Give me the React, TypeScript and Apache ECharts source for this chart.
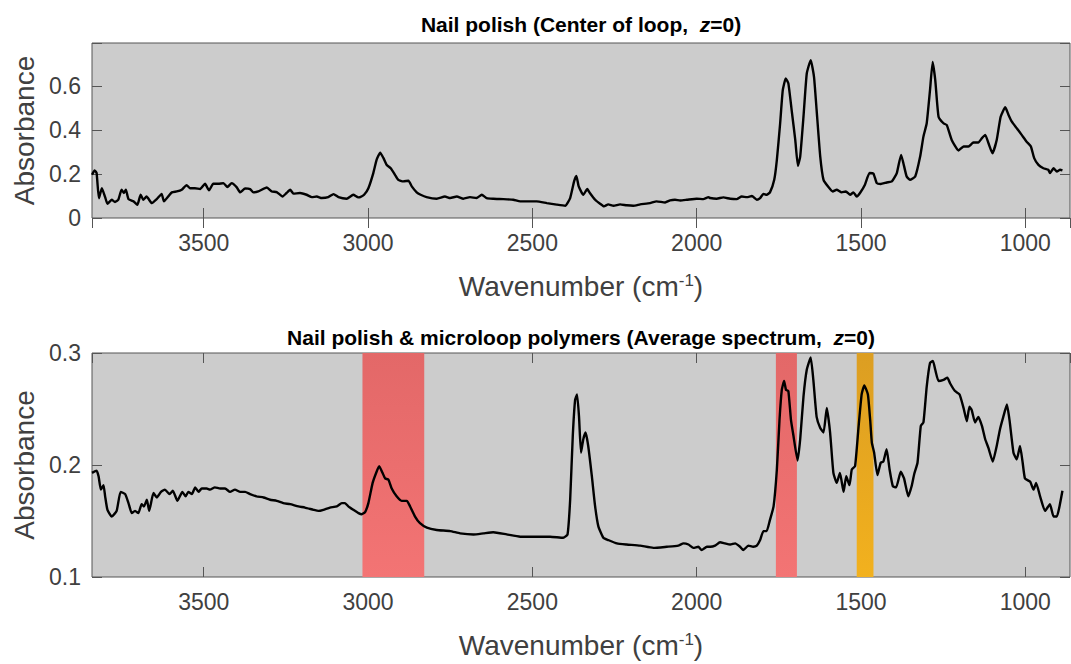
import React, { useEffect, useRef } from "react";
import * as echarts from "echarts";

// ---------- data ----------
const xMin = 864;
const xMax = 3840;

const topWn = [3840,3832,3826,3819,3810,3800,3793,3780,3770,3760,3750,3743,3737,3729,3714,3702,3692,3684,3674,3658,3643,3628,3621,3608,3597,3582,3567,3552,3542,3527,3511,3496,3484,3471,3456,3440,3428,3415,3400,3389,3374,3359,3349,3334,3308,3293,3278,3260,3248,3237,3227,3207,3187,3171,3156,3141,3121,3105,3090,3065,3045,3030,3024,3012,2999,2984,2974,2963,2953,2943,2931,2918,2908,2893,2877,2867,2852,2840,2822,2791,2766,2750,2730,2710,2690,2670,2654,2639,2619,2588,2558,2537,2507,2487,2456,2426,2400,2385,2373,2366,2359,2345,2333,2325,2309,2294,2282,2269,2253,2233,2213,2193,2172,2142,2122,2096,2081,2066,2050,2030,2000,1980,1964,1959,1939,1919,1898,1878,1863,1847,1832,1817,1807,1797,1787,1777,1764,1756,1746,1738,1729,1721,1711,1700,1692,1685,1675,1665,1653,1643,1635,1624,1614,1599,1586,1574,1559,1546,1533,1523,1513,1503,1488,1474,1462,1452,1440,1422,1406,1391,1378,1371,1361,1351,1335,1320,1310,1300,1290,1282,1274,1264,1249,1239,1224,1203,1188,1173,1158,1143,1132,1122,1112,1100,1087,1075,1061,1051,1041,1026,1011,996,983,973,960,945,930,925,914,904,894,887];
const topAbs = [0.197,0.217,0.205,0.09,0.136,0.095,0.065,0.083,0.073,0.083,0.129,0.114,0.129,0.086,0.076,0.06,0.106,0.083,0.098,0.068,0.086,0.11,0.076,0.098,0.117,0.121,0.129,0.15,0.136,0.136,0.132,0.156,0.126,0.156,0.156,0.159,0.141,0.159,0.141,0.117,0.135,0.132,0.117,0.121,0.139,0.121,0.118,0.098,0.114,0.129,0.111,0.114,0.106,0.095,0.098,0.091,0.095,0.109,0.095,0.088,0.106,0.094,0.095,0.106,0.136,0.205,0.265,0.298,0.273,0.242,0.227,0.197,0.174,0.167,0.17,0.144,0.117,0.106,0.095,0.088,0.098,0.091,0.098,0.088,0.095,0.091,0.106,0.091,0.088,0.086,0.083,0.076,0.076,0.076,0.068,0.061,0.056,0.091,0.167,0.192,0.144,0.106,0.132,0.114,0.083,0.065,0.053,0.062,0.056,0.062,0.058,0.056,0.062,0.068,0.076,0.071,0.08,0.083,0.08,0.083,0.088,0.086,0.095,0.091,0.088,0.094,0.088,0.086,0.098,0.095,0.1,0.083,0.091,0.11,0.106,0.117,0.174,0.265,0.432,0.583,0.636,0.614,0.492,0.356,0.238,0.28,0.462,0.659,0.72,0.644,0.492,0.28,0.174,0.141,0.121,0.129,0.117,0.121,0.106,0.117,0.098,0.114,0.152,0.205,0.202,0.159,0.155,0.162,0.167,0.205,0.288,0.25,0.189,0.174,0.189,0.28,0.371,0.432,0.583,0.712,0.629,0.462,0.432,0.424,0.356,0.308,0.326,0.326,0.344,0.344,0.364,0.379,0.341,0.295,0.356,0.462,0.505,0.47,0.439,0.409,0.379,0.348,0.326,0.273,0.242,0.227,0.22,0.205,0.227,0.212,0.22,0.217];

const botWn = [3840,3826,3820,3813,3805,3800,3793,3780,3765,3753,3739,3729,3719,3709,3699,3689,3682,3673,3666,3653,3643,3630,3618,3604,3594,3580,3565,3555,3547,3536,3526,3516,3506,3491,3481,3466,3450,3435,3420,3405,3389,3374,3359,3339,3318,3298,3278,3258,3237,3212,3192,3166,3151,3136,3116,3095,3080,3070,3060,3045,3029,3019,3009,2999,2986,2974,2966,2956,2948,2938,2928,2913,2898,2882,2872,2857,2842,2821,2791,2750,2720,2679,2649,2619,2578,2537,2500,2446,2406,2393,2385,2377,2370,2364,2358,2352,2345,2338,2330,2319,2309,2299,2284,2269,2243,2213,2172,2132,2091,2056,2040,2025,2010,1995,1985,1969,1959,1944,1929,1914,1898,1883,1868,1858,1843,1828,1817,1807,1797,1787,1777,1766,1756,1748,1741,1734,1728,1721,1713,1706,1693,1685,1675,1665,1653,1645,1635,1624,1614,1604,1594,1584,1574,1564,1553,1545,1535,1528,1518,1508,1498,1490,1479,1472,1467,1460,1450,1440,1432,1422,1413,1403,1393,1379,1369,1356,1346,1338,1328,1318,1310,1300,1290,1281,1274,1264,1249,1237,1229,1214,1200,1188,1178,1170,1163,1153,1143,1132,1122,1112,1099,1087,1077,1067,1056,1048,1036,1026,1016,1008,1001,985,975,967,955,940,925,914,904,896,887];
const botAbs = [0.193,0.195,0.19,0.178,0.182,0.172,0.16,0.154,0.159,0.176,0.174,0.166,0.157,0.159,0.157,0.165,0.163,0.169,0.159,0.175,0.171,0.176,0.178,0.174,0.177,0.168,0.176,0.172,0.176,0.174,0.18,0.176,0.179,0.179,0.178,0.18,0.179,0.179,0.176,0.178,0.176,0.176,0.174,0.172,0.171,0.169,0.168,0.166,0.165,0.163,0.162,0.16,0.159,0.16,0.162,0.163,0.166,0.166,0.163,0.16,0.157,0.156,0.158,0.166,0.184,0.194,0.199,0.193,0.188,0.187,0.179,0.172,0.168,0.168,0.163,0.154,0.148,0.144,0.142,0.141,0.139,0.138,0.139,0.14,0.138,0.136,0.136,0.136,0.135,0.138,0.169,0.226,0.258,0.263,0.243,0.211,0.223,0.229,0.217,0.19,0.163,0.145,0.135,0.133,0.13,0.129,0.128,0.126,0.127,0.128,0.13,0.129,0.126,0.127,0.124,0.127,0.127,0.128,0.131,0.13,0.129,0.13,0.127,0.124,0.128,0.127,0.128,0.133,0.141,0.141,0.151,0.163,0.196,0.24,0.267,0.275,0.267,0.266,0.24,0.227,0.204,0.223,0.261,0.285,0.296,0.276,0.243,0.233,0.229,0.251,0.229,0.193,0.184,0.193,0.176,0.19,0.182,0.196,0.199,0.232,0.263,0.271,0.263,0.24,0.22,0.211,0.191,0.202,0.203,0.214,0.196,0.181,0.18,0.194,0.188,0.172,0.181,0.192,0.202,0.235,0.238,0.27,0.291,0.293,0.285,0.275,0.276,0.278,0.273,0.266,0.263,0.251,0.239,0.252,0.249,0.238,0.243,0.235,0.223,0.215,0.203,0.217,0.232,0.243,0.254,0.24,0.211,0.205,0.217,0.202,0.188,0.185,0.178,0.184,0.172,0.159,0.165,0.154,0.154,0.163,0.177];

const redBands = [[3017, 2829], [1759, 1695]];
const orangeBands = [[1513, 1462]];

const topTitle = "Nail polish (Center of loop,  {i|z}=0)";
const botTitle = "Nail polish & microloop polymers (Average spectrum,  {i|z}=0)";
const xName = "Wavenumber (cm{sup|-1})";
const yName = "Absorbance";

// ---------- chart ----------
const FONT = "'Liberation Sans', Arial, Helvetica, sans-serif";
const AX = "#555555";
const LBL = "#404040";

export default function App() {
  const ref = useRef<HTMLDivElement>(null);

  useEffect(() => {
    if (!ref.current) return;
    const chart = echarts.init(ref.current, undefined, { renderer: "svg" });

    const redGrad = () =>
      new echarts.graphic.LinearGradient(0, 0, 0, 1, [
        { offset: 0, color: "#e36868" },
        { offset: 1, color: "#f37474" },
      ]);
    const orangeGrad = () =>
      new echarts.graphic.LinearGradient(0, 0, 0, 1, [
        { offset: 0, color: "#dc9e22" },
        { offset: 1, color: "#f2b11e" },
      ]);

    const xLabelFmt = (v: number) =>
      Math.abs(v / 500 - Math.round(v / 500)) < 1e-6 ? String(Math.round(v)) : "";

    const mkX = (grid: number, withName: boolean) => [
      {
        gridIndex: grid,
        type: "value",
        inverse: true,
        min: xMin,
        max: xMax,
        position: "bottom",
        axisLine: { show: false },
        axisTick: { show: true, inside: true, length: 10, lineStyle: { color: AX, width: 1 } },
        axisLabel: {
          show: true,
          formatter: xLabelFmt,
          fontSize: 23,
          color: LBL,
          fontFamily: FONT,
          margin: 13,
          showMinLabel: false,
          showMaxLabel: false,
        },
        splitLine: { show: false },
        name: withName ? xName : "",
        nameLocation: "middle",
        nameGap: 54,
        nameTextStyle: {
          fontSize: 28,
          color: LBL,
          fontFamily: FONT,
          rich: {
            sup: { fontSize: 17, color: LBL, fontFamily: FONT, verticalAlign: "top", lineHeight: 17 },
          },
        },
      },
      {
        gridIndex: grid,
        type: "value",
        inverse: true,
        min: xMin,
        max: xMax,
        position: "top",
        axisLine: { show: false },
        axisTick: { show: true, inside: true, length: 10, lineStyle: { color: AX, width: 1 } },
        axisLabel: { show: false },
        splitLine: { show: false },
      },
    ];

    const topYFmt = (v: number) => {
      const k = Math.round(v / 0.2);
      if (Math.abs(v - k * 0.2) > 1e-6) return "";
      return k === 0 ? "0" : (k * 0.2).toFixed(1);
    };
    const botYFmt = (v: number) => {
      const k = Math.round(v / 0.1);
      if (Math.abs(v - k * 0.1) > 1e-6) return "";
      return (k * 0.1).toFixed(1);
    };

    const mkY = (grid: number, min: number, max: number, interval: number, fmt: any) => [
      {
        gridIndex: grid,
        type: "value",
        min,
        max,
        interval,
        position: "left",
        axisLine: { show: false },
        axisTick: { show: true, inside: true, length: 10, lineStyle: { color: AX, width: 1 } },
        axisLabel: { formatter: fmt, fontSize: 23, color: LBL, fontFamily: FONT, margin: 11 },
        splitLine: { show: false },
        name: yName,
        nameLocation: "middle",
        nameGap: 54,
        nameTextStyle: { fontSize: 28, color: LBL, fontFamily: FONT },
      },
      {
        gridIndex: grid,
        type: "value",
        min,
        max,
        interval,
        position: "right",
        axisLine: { show: false },
        axisTick: { show: true, inside: true, length: 10, lineStyle: { color: AX, width: 1 } },
        axisLabel: { show: false },
        splitLine: { show: false },
      },
    ];

    const topData = topWn.map((w, i) => [w, topAbs[i]]);
    const botData = botWn.map((w, i) => [w, botAbs[i]]);

    const bandData = [
      ...redBands.map((b) => [{ xAxis: b[0], itemStyle: { color: redGrad() } }, { xAxis: b[1] }]),
      ...orangeBands.map((b) => [{ xAxis: b[0], itemStyle: { color: orangeGrad() } }, { xAxis: b[1] }]),
    ];

    const titleStyle = (text: string, x: number, y: number) => ({
      type: "text",
      x,
      y,
      style: {
        text,
        fill: "#000",
        fontSize: 21,
        fontWeight: "bold",
        fontFamily: FONT,
        align: "center",
        verticalAlign: "middle",
        textAlign: "center",
        textVerticalAlign: "middle",
        rich: {
          i: { fontSize: 21, fontWeight: "bold", fontStyle: "italic", fontFamily: FONT, fill: "#000" },
        },
      },
    });

    const option: any = {
      animation: false,
      textStyle: { fontFamily: FONT },
      grid: [
        { left: 92, top: 43, width: 978, height: 175, show: true, backgroundColor: "#cccccc", borderColor: AX, borderWidth: 1 },
        { left: 92, top: 353, width: 978, height: 224, show: true, backgroundColor: "#cccccc", borderColor: AX, borderWidth: 1 },
      ],
      xAxis: [...mkX(0, true), ...mkX(1, true)],
      yAxis: [...mkY(0, 0, 0.798, 0.2, topYFmt), ...mkY(1, 0.1, 0.3, 0.1, botYFmt)],
      graphic: [titleStyle(topTitle, 581, 24), titleStyle(botTitle, 581, 337)],
      series: [
        {
          type: "line",
          xAxisIndex: 0,
          yAxisIndex: 0,
          data: topData,
          showSymbol: false,
          smooth: 0.15,
          lineStyle: { color: "#000", width: 2.4 },
          itemStyle: { color: "#000" },
          z: 5,
        },
        {
          type: "line",
          xAxisIndex: 2,
          yAxisIndex: 2,
          data: botData,
          showSymbol: false,
          smooth: 0.15,
          lineStyle: { color: "#000", width: 2.4 },
          itemStyle: { color: "#000" },
          z: 5,
          markArea: { silent: true, data: bandData },
        },
      ],
    };

    chart.setOption(option);
    return () => chart.dispose();
  }, []);

  return (
    <div
      ref={ref}
      style={{ position: "fixed", left: 0, top: 0, width: 1071, height: 664, background: "#fff" }}
    />
  );
}
